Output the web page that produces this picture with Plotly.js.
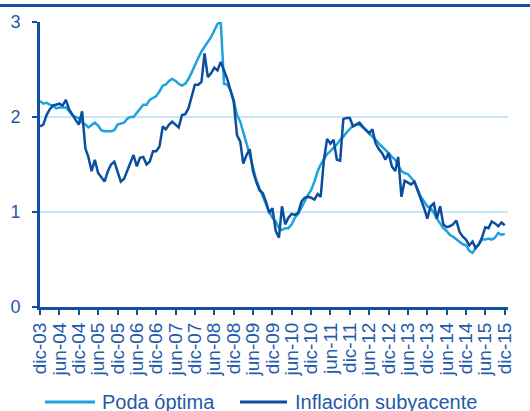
<!DOCTYPE html>
<html>
<head>
<meta charset="utf-8">
<script src="https://cdn.plot.ly/plotly-3.0.1.min.js"></script>
<style>html,body{margin:0;padding:0;background:#fff;}#chart{width:530px;height:411px;}</style>
</head>
<body>
<div id="chart"></div>
<script>
// Monthly, dic-03 .. dic-15
const startYear = 2003, startMonth = 12, nMonths = 145;
const months = [];
for (let i = 0; i < nMonths; i++) {
  const t = (startMonth - 1) + i;
  const y = startYear + Math.floor(t / 12), m = (t % 12) + 1;
  months.push(y + '-' + String(m).padStart(2, '0') + '-01');
}

const podaOptima = [
  2.17, 2.14, 2.15, 2.13, 2.12, 2.09, 2.10, 2.10, 2.10, 2.06,
  2.02, 2.00, 1.99, 1.94, 1.92, 1.89, 1.92, 1.94, 1.91, 1.86,
  1.85, 1.85, 1.85, 1.86, 1.92, 1.93, 1.94, 1.98, 2.00, 2.00,
  2.04, 2.08, 2.13, 2.13, 2.18, 2.20, 2.22, 2.27, 2.33, 2.34,
  2.38, 2.40, 2.38, 2.35, 2.33, 2.35, 2.40, 2.47, 2.55, 2.62,
  2.69, 2.74, 2.78, 2.84, 2.91, 2.98, 3.00, 2.35, 2.34, 2.28,
  2.18, 2.02, 1.95, 1.85, 1.72, 1.60, 1.48, 1.34, 1.25, 1.16,
  1.08, 1.00, 0.94, 0.90, 0.83, 0.81, 0.83, 0.83, 0.87, 0.94,
  0.98, 1.04, 1.11, 1.18, 1.23, 1.32, 1.43, 1.50, 1.56, 1.61,
  1.64, 1.67, 1.71, 1.76, 1.79, 1.84, 1.88, 1.91, 1.92, 1.92,
  1.89, 1.86, 1.83, 1.80, 1.76, 1.72, 1.69, 1.65, 1.62, 1.58,
  1.55, 1.49, 1.43, 1.41, 1.40, 1.36, 1.32, 1.24, 1.16, 1.11,
  1.06, 1.04, 0.99, 0.93, 0.88, 0.83, 0.80, 0.76, 0.74, 0.71,
  0.69, 0.66, 0.65, 0.59, 0.57, 0.62, 0.66, 0.71, 0.71, 0.72,
  0.71, 0.73, 0.78, 0.76, 0.77
];

const inflacionSubyacente = [
  1.90, 1.92, 2.02, 2.08, 2.12, 2.13, 2.14, 2.12, 2.18, 2.08,
  2.02, 1.97, 1.92, 2.06, 1.67, 1.58, 1.43, 1.55, 1.41, 1.36,
  1.32, 1.43, 1.50, 1.53, 1.43, 1.32, 1.35, 1.43, 1.53, 1.60,
  1.48, 1.57, 1.58, 1.50, 1.53, 1.64, 1.64, 1.69, 1.90, 1.87,
  1.92, 1.95, 1.92, 1.89, 2.02, 2.03, 2.09, 2.21, 2.34, 2.34,
  2.37, 2.67, 2.42, 2.46, 2.52, 2.49, 2.58, 2.49, 2.40, 2.28,
  2.16, 1.81, 1.74, 1.51, 1.60, 1.66, 1.43, 1.32, 1.23, 1.20,
  1.11, 0.99, 1.04, 0.80, 0.73, 1.06, 0.87, 0.94, 0.98, 0.97,
  0.99, 1.11, 1.15, 1.16, 1.15, 1.13, 1.19, 1.16, 1.55, 1.77,
  1.72, 1.76, 1.55, 1.54, 1.98, 1.99, 1.99, 1.90, 1.92, 1.94,
  1.90, 1.86, 1.83, 1.87, 1.72, 1.66, 1.62, 1.55, 1.62, 1.48,
  1.43, 1.58, 1.16, 1.33, 1.31, 1.29, 1.32, 1.23, 1.13, 1.04,
  0.93, 1.06, 1.09, 0.93, 1.06, 0.87, 0.84, 0.85, 0.87, 0.91,
  0.79, 0.74, 0.71, 0.65, 0.69, 0.62, 0.66, 0.73, 0.84, 0.83,
  0.90, 0.88, 0.85, 0.89, 0.86
];

const tickLabels = ['dic-03','jun-04','dic-04','jun-05','dic-05','jun-06','dic-06','jun-07','dic-07',
  'jun-08','dic-08','jun-09','dic-09','jun-10','dic-10','jun-11','dic-11','jun-12','dic-12',
  'jun-13','dic-13','jun-14','dic-14','jun-15','dic-15'];
const tickVals = tickLabels.map((_, i) => months[i * 6]);

const seriesNames = ['Poda óptima', 'Inflación subyacente'];
const lightBlue = '#1ca3df';
const darkBlue = '#0c4e9e';
const textBlue = '#1f5aab';
const axisBlue = '#1350a2';
const fontFam = 'Arial, "Liberation Sans", sans-serif';

const traces = [
  {x: months, y: podaOptima, name: seriesNames[0], type: 'scatter', mode: 'lines',
   line: {color: lightBlue, width: 2.5}},
  {x: months, y: inflacionSubyacente, name: seriesNames[1], type: 'scatter', mode: 'lines',
   line: {color: darkBlue, width: 2.5}}
];

// plot area in pixels: x 40..508, y 22..307
const L = 40, R = 508, T = 22, B = 307;
const px = v => (v - L) / (R - L);
const py = v => (B - v) / (B - T);

const layout = {
  width: 530, height: 411,
  margin: {l: L, r: 530 - R, t: T, b: 411 - B, pad: 0},
  paper_bgcolor: '#fff', plot_bgcolor: '#fff',
  showlegend: false,
  font: {family: fontFam, color: textBlue},
  xaxis: {
    type: 'date',
    range: ['2003-12-01', '2016-01-01'],
    tickmode: 'array', tickvals: tickVals, ticktext: tickLabels,
    tickangle: -90,
    tickfont: {size: 19, color: textBlue, family: fontFam},
    ticks: 'outside', ticklen: 5, tickwidth: 2, tickcolor: axisBlue,
    showline: true, linecolor: axisBlue, linewidth: 3,
    showgrid: false, zeroline: false, fixedrange: true
  },
  yaxis: {
    range: [0, 3],
    tickvals: [0, 1, 2, 3],
    tickfont: {size: 18, color: textBlue, family: fontFam},
    ticks: 'outside', ticklen: 5, tickwidth: 2, tickcolor: axisBlue,
    ticklabelstandoff: 8,
    showline: true, linecolor: axisBlue, linewidth: 3,
    showgrid: true, gridcolor: '#c4e8f7', gridwidth: 1.5,
    zeroline: false, fixedrange: true
  },
  shapes: [
    {type: 'line', xref: 'paper', yref: 'paper', x0: px(0), x1: px(530), y0: py(5.5), y1: py(5.5),
     line: {color: axisBlue, width: 3}},
    {type: 'line', xref: 'paper', yref: 'paper', x0: px(45), x1: px(95), y0: py(402), y1: py(402),
     line: {color: lightBlue, width: 3}},
    {type: 'line', xref: 'paper', yref: 'paper', x0: px(240), x1: px(287), y0: py(402), y1: py(402),
     line: {color: darkBlue, width: 3}}
  ],
  annotations: [
    {xref: 'paper', yref: 'paper', x: px(100), y: py(402), xanchor: 'left', yanchor: 'middle',
     text: seriesNames[0], showarrow: false, font: {size: 20, color: textBlue, family: fontFam}},
    {xref: 'paper', yref: 'paper', x: px(293), y: py(402), xanchor: 'left', yanchor: 'middle',
     text: seriesNames[1], showarrow: false, font: {size: 20, color: textBlue, family: fontFam}},
    {xref: 'paper', yref: 'paper', x: px(200), y: py(-12), xanchor: 'center', yanchor: 'middle',
     text: '<b>(% a/a)</b>', showarrow: false, font: {size: 20, color: axisBlue, family: fontFam}}
  ]
};

Plotly.newPlot('chart', traces, layout, {displayModeBar: false, staticPlot: true});
</script>
</body>
</html>
